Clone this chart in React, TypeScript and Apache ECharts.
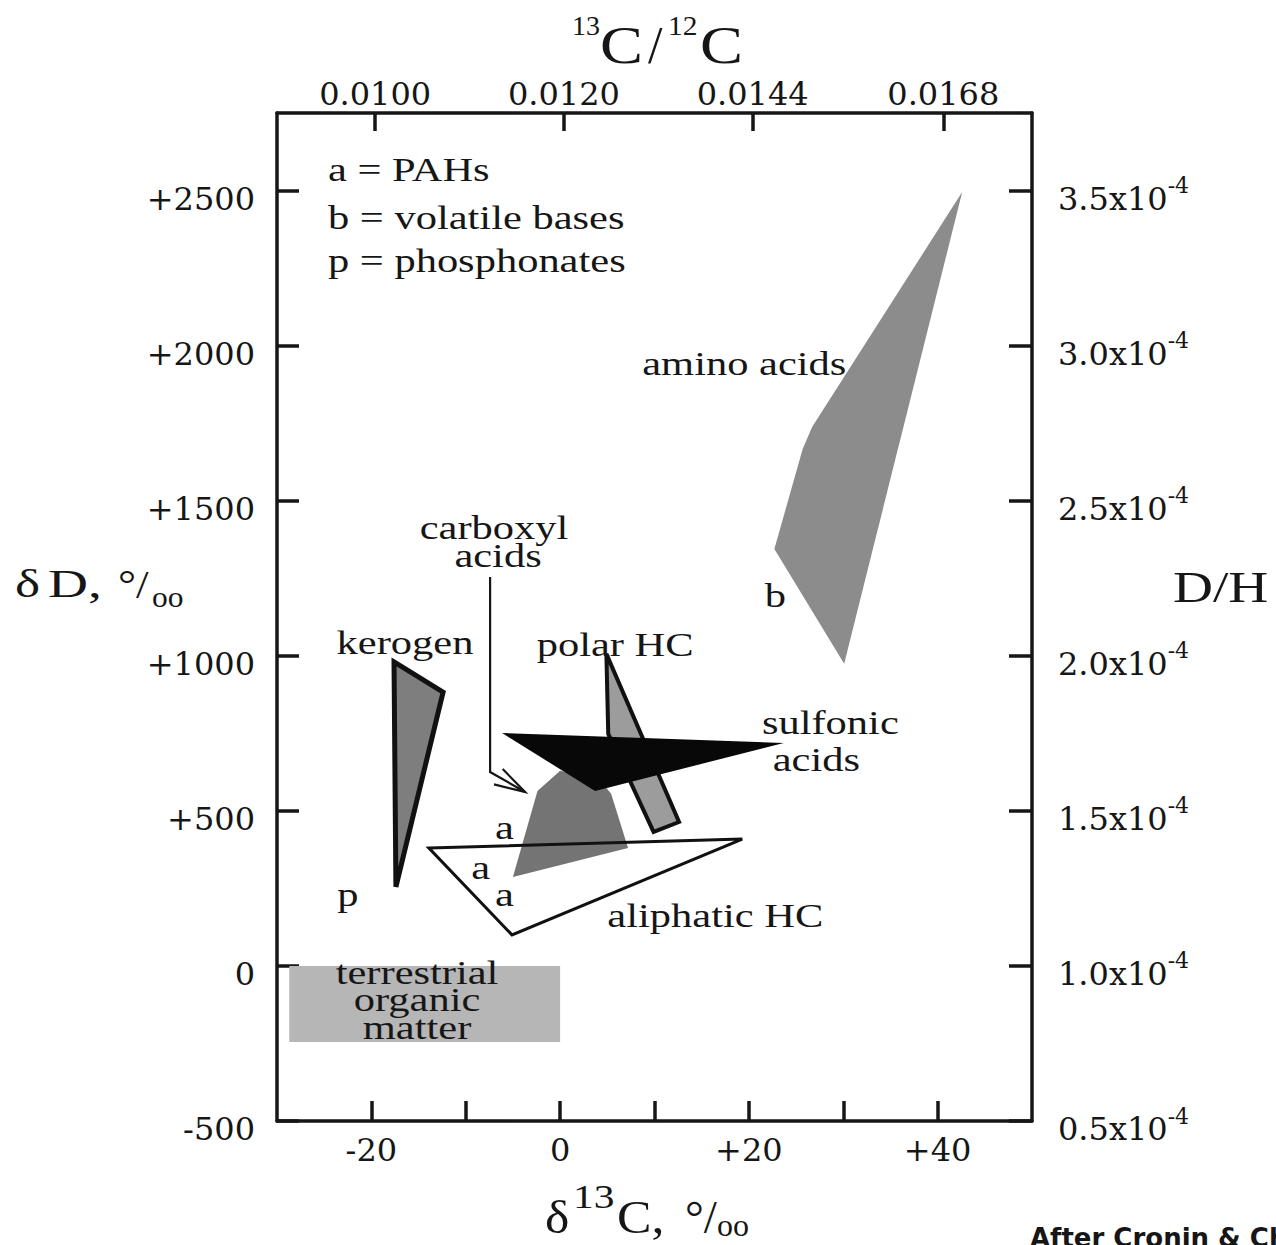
import React, { useEffect, useRef } from 'react';
import * as echarts from 'echarts';

// ---- axis ticks / labels ----
const X_TICKS = [-20, -10, 0, 10, 20, 30, 40];
const X_LABELS = [-20, 0, 20, 40];
const Y_TICKS = [-500, 0, 500, 1000, 1500, 2000, 2500];
const DH_LABELS = ['0.5', '1.0', '1.5', '2.0', '2.5', '3.0', '3.5'];
const TOP_TICKS = [-19.6, 0.4, 20.4, 40.6];
const TOP_LABELS = ['0.0100', '0.0120', '0.0144', '0.0168'];

// ---- regions (δ13C ‰, δD ‰) ----
const TERRESTRIAL = [[-28.7, 0], [0, 0], [0, -245], [-28.7, -245]];
const CARBOXYL = [[0, 629], [-2.4, 564], [-5.0, 287], [7.2, 380], [5.4, 555], [4.2, 600]];
const ALIPHATIC_HC = [[-13.9, 380], [19.3, 409], [-5.1, 100]];
const POLAR_HC = [[4.9, 1006], [12.6, 464], [9.9, 432], [5.1, 748]];
const SULFONIC = [[-6.15, 751], [23.7, 719], [3.7, 564]];
const KEROGEN = [[-17.6, 980], [-12.4, 883], [-17.4, 255]];
const AMINO = [[42.6, 2495], [26.7, 1738], [25.7, 1667], [22.7, 1344], [30.1, 974]];
const CARBOXYL_POINTER = [[-7.42, 1254], [-7.42, 625], [-3.71, 561]];

// ---- annotation texts (anchor = baseline, δ13C / δD) ----
const LABEL_TEXTS = ['a = PAHs', 'b = volatile bases', 'p = phosphonates', 'amino acids', 'b', 'carboxyl', 'acids',
  'kerogen', 'polar HC', 'sulfonic', 'acids', 'a', 'a', 'a', 'p', 'aliphatic HC', 'terrestrial', 'organic', 'matter'];
const LABEL_X = [-24.6, -24.6, -24.6, 8.7, 22.8, -7.0, -6.58, -16.44, 5.83, 28.63, 27.15, -5.89, -8.43, -5.89, -22.48, 16.44, -15.16, -15.16, -15.16];
const LABEL_Y = [2531, 2376, 2237, 1905, 1157, 1377, 1286, 1006, 999, 748, 629, 409, 280, 193, 193, 126, -58, -145, -235];
const LABEL_ALIGN = ['left', 'left', 'left', 'left', 'center', 'center', 'center', 'center', 'center', 'center', 'center',
  'center', 'center', 'center', 'center', 'center', 'center', 'center', 'center'];

const SHAPES = [
  { pts: TERRESTRIAL, fill: '#b6b6b6', stroke: null, lw: 0 },
  { pts: CARBOXYL, fill: '#747474', stroke: null, lw: 0 },
  { pts: ALIPHATIC_HC, fill: 'none', stroke: '#111', lw: 3 },
  { pts: POLAR_HC, fill: '#9c9c9c', stroke: '#111', lw: 4 },
  { pts: SULFONIC, fill: '#080808', stroke: null, lw: 0 },
  { pts: KEROGEN, fill: '#7e7e7e', stroke: '#111', lw: 5 },
  { pts: AMINO, fill: '#8c8c8c', stroke: null, lw: 0 },
];

const SERIF = 'Liberation Serif, serif';
const TICK_FONT = 'DejaVu Serif, serif';
const INK = '#161616';
const CENTRAL = 0.3375;

function piece(text: string, x: number, baseline: number, fs: number, sx: number, family = SERIF, weight = 'normal') {
  return {
    type: 'text', x, y: baseline - CENTRAL * fs, scaleX: sx, silent: true,
    style: { text, x: 0, y: 0, fill: INK, fontSize: fs, fontFamily: family, fontWeight: weight, align: 'left', verticalAlign: 'middle' },
  };
}

export default function App() {
  const ref = useRef<HTMLDivElement>(null);
  useEffect(() => {
    document.body.style.margin = '0';
    const chart = echarts.init(ref.current!, null, { renderer: 'svg' });
    const axisLine = { show: true, onZero: false, lineStyle: { color: INK, width: 3.5 } };
    const tickStyle = { color: INK, width: 3.5 };
    const option: any = {
      animation: false,
      backgroundColor: '#ffffff',
      grid: { left: 277, right: 244, top: 113, bottom: 124, containLabel: false },
      xAxis: [
        {
          type: 'value', position: 'bottom', min: -30, max: 50,
          axisLine, splitLine: { show: false },
          axisTick: { show: true, inside: true, length: 20, lineStyle: tickStyle, customValues: X_TICKS },
          axisLabel: {
            show: true, customValues: X_LABELS, margin: 13, color: INK, fontSize: 32, fontFamily: TICK_FONT,
            formatter: (v: number) => (v > 0 ? '+' + v : String(v)),
          },
        },
        {
          type: 'value', position: 'top', min: -30, max: 50,
          axisLine, splitLine: { show: false },
          axisTick: { show: true, inside: true, length: 18, lineStyle: tickStyle, customValues: TOP_TICKS },
          axisLabel: {
            show: true, customValues: TOP_TICKS, margin: 3, color: INK, fontSize: 32, fontFamily: TICK_FONT,
            formatter: (v: number) => {
              let best = 0;
              TOP_TICKS.forEach((t, i) => { if (Math.abs(t - v) < Math.abs(TOP_TICKS[best] - v)) best = i; });
              return TOP_LABELS[best];
            },
          },
        },
      ],
      yAxis: [
        {
          type: 'value', position: 'left', min: -500, max: 2750,
          axisLine, splitLine: { show: false },
          axisTick: { show: true, inside: true, length: 22, lineStyle: tickStyle, customValues: Y_TICKS },
          axisLabel: {
            show: true, customValues: Y_TICKS, margin: 22, color: INK,
            formatter: (v: number) => '{a|' + (v > 0 ? '+' + v : String(v)) + '}',
            rich: { a: { fontSize: 32, fontFamily: TICK_FONT, color: INK, padding: [16, 0, 0, 0] } },
          },
        },
        {
          type: 'value', position: 'right', min: -500, max: 2750,
          axisLine, splitLine: { show: false },
          axisTick: { show: true, inside: true, length: 23, lineStyle: tickStyle, customValues: Y_TICKS },
          axisLabel: {
            show: true, customValues: Y_TICKS, margin: 26, color: INK,
            formatter: (v: number) => {
              const i = Y_TICKS.indexOf(v);
              return '{m|' + DH_LABELS[i] + 'x10}{s|-4}';
            },
            rich: {
              m: { fontSize: 32, fontFamily: TICK_FONT, color: INK, padding: [16, 0, 0, 0] },
              s: { fontSize: 22, fontFamily: TICK_FONT, color: INK, padding: [0, 0, 10, 0] },
            },
          },
        },
      ],
      series: [
        {
          type: 'custom', name: 'regions', silent: true, clip: false, z: 2,
          data: SHAPES.map((_, i) => [i]),
          renderItem: (params: any, api: any) => {
            const s = SHAPES[params.dataIndex];
            const points = s.pts.map((p) => api.coord(p));
            return {
              type: 'polygon', shape: { points },
              style: { fill: s.fill, stroke: s.stroke || 'none', lineWidth: s.lw, lineJoin: 'miter' },
            };
          },
        },
        {
          type: 'custom', name: 'pointer', silent: true, clip: false, z: 3,
          data: [[0]],
          renderItem: (params: any, api: any) => {
            const pts = CARBOXYL_POINTER.map((p) => api.coord(p));
            const tip = pts[pts.length - 1];
            const prev = pts[pts.length - 2];
            const ang = Math.atan2(prev[1] - tip[1], prev[0] - tip[0]);
            const len = 32;
            const spread = (16 * Math.PI) / 180;
            const b1 = [tip[0] + len * Math.cos(ang + spread), tip[1] + len * Math.sin(ang + spread)];
            const b2 = [tip[0] + len * Math.cos(ang - spread), tip[1] + len * Math.sin(ang - spread)];
            const st = { stroke: INK, lineWidth: 2.2, fill: 'none' };
            return {
              type: 'group',
              children: [
                { type: 'polyline', shape: { points: pts }, style: st },
                { type: 'polyline', shape: { points: [b1, tip, b2] }, style: st },
              ],
            };
          },
        },
        {
          type: 'custom', name: 'labels', silent: true, clip: false, z: 4,
          data: LABEL_X.map((x, i) => [x, LABEL_Y[i]]),
          renderItem: (params: any, api: any) => {
            const fs = 34;
            const p = api.coord([api.value(0), api.value(1)]);
            return {
              type: 'text', x: p[0], y: p[1] - CENTRAL * fs, scaleX: 1.25,
              style: {
                text: LABEL_TEXTS[params.dataIndex], x: 0, y: 0, fill: INK,
                fontSize: fs, fontFamily: SERIF, align: LABEL_ALIGN[params.dataIndex], verticalAlign: 'middle',
              },
            };
          },
        },
      ],
      graphic: [
        // top title 13C/12C
        piece('13', 572, 35, 28, 1.0),
        piece('C', 600, 63, 52, 1.24),
        piece('/', 648, 63, 52, 1.0),
        piece('12', 668, 35, 28, 1.05),
        piece('C', 700, 63, 52, 1.24),
        // bottom title δ13C, ‰
        piece('δ', 545, 1233, 47, 1.1),
        piece('13', 573, 1208, 34, 1.22),
        piece('C,', 617, 1233, 47, 1.1),
        piece('°/', 685, 1233, 47, 1.0),
        piece('oo', 717, 1236, 32, 1.0),
        // left title δD, ‰
        piece('δ', 15, 597, 41, 1.3),
        piece('D,', 48, 597, 41, 1.35),
        piece('°/', 118, 598, 41, 1.1),
        piece('oo', 152, 607, 30, 1.05),
        // right title
        piece('D/H', 1173, 602, 45, 1.23),
        // credit
        piece('After Cronin & Chang', 1030, 1247, 26, 1.0, 'DejaVu Sans, sans-serif', 'bold'),
      ],
    };
    chart.setOption(option);
    return () => chart.dispose();
  }, []);
  return <div ref={ref} style={{ width: 1276, height: 1245 }} />;
}
